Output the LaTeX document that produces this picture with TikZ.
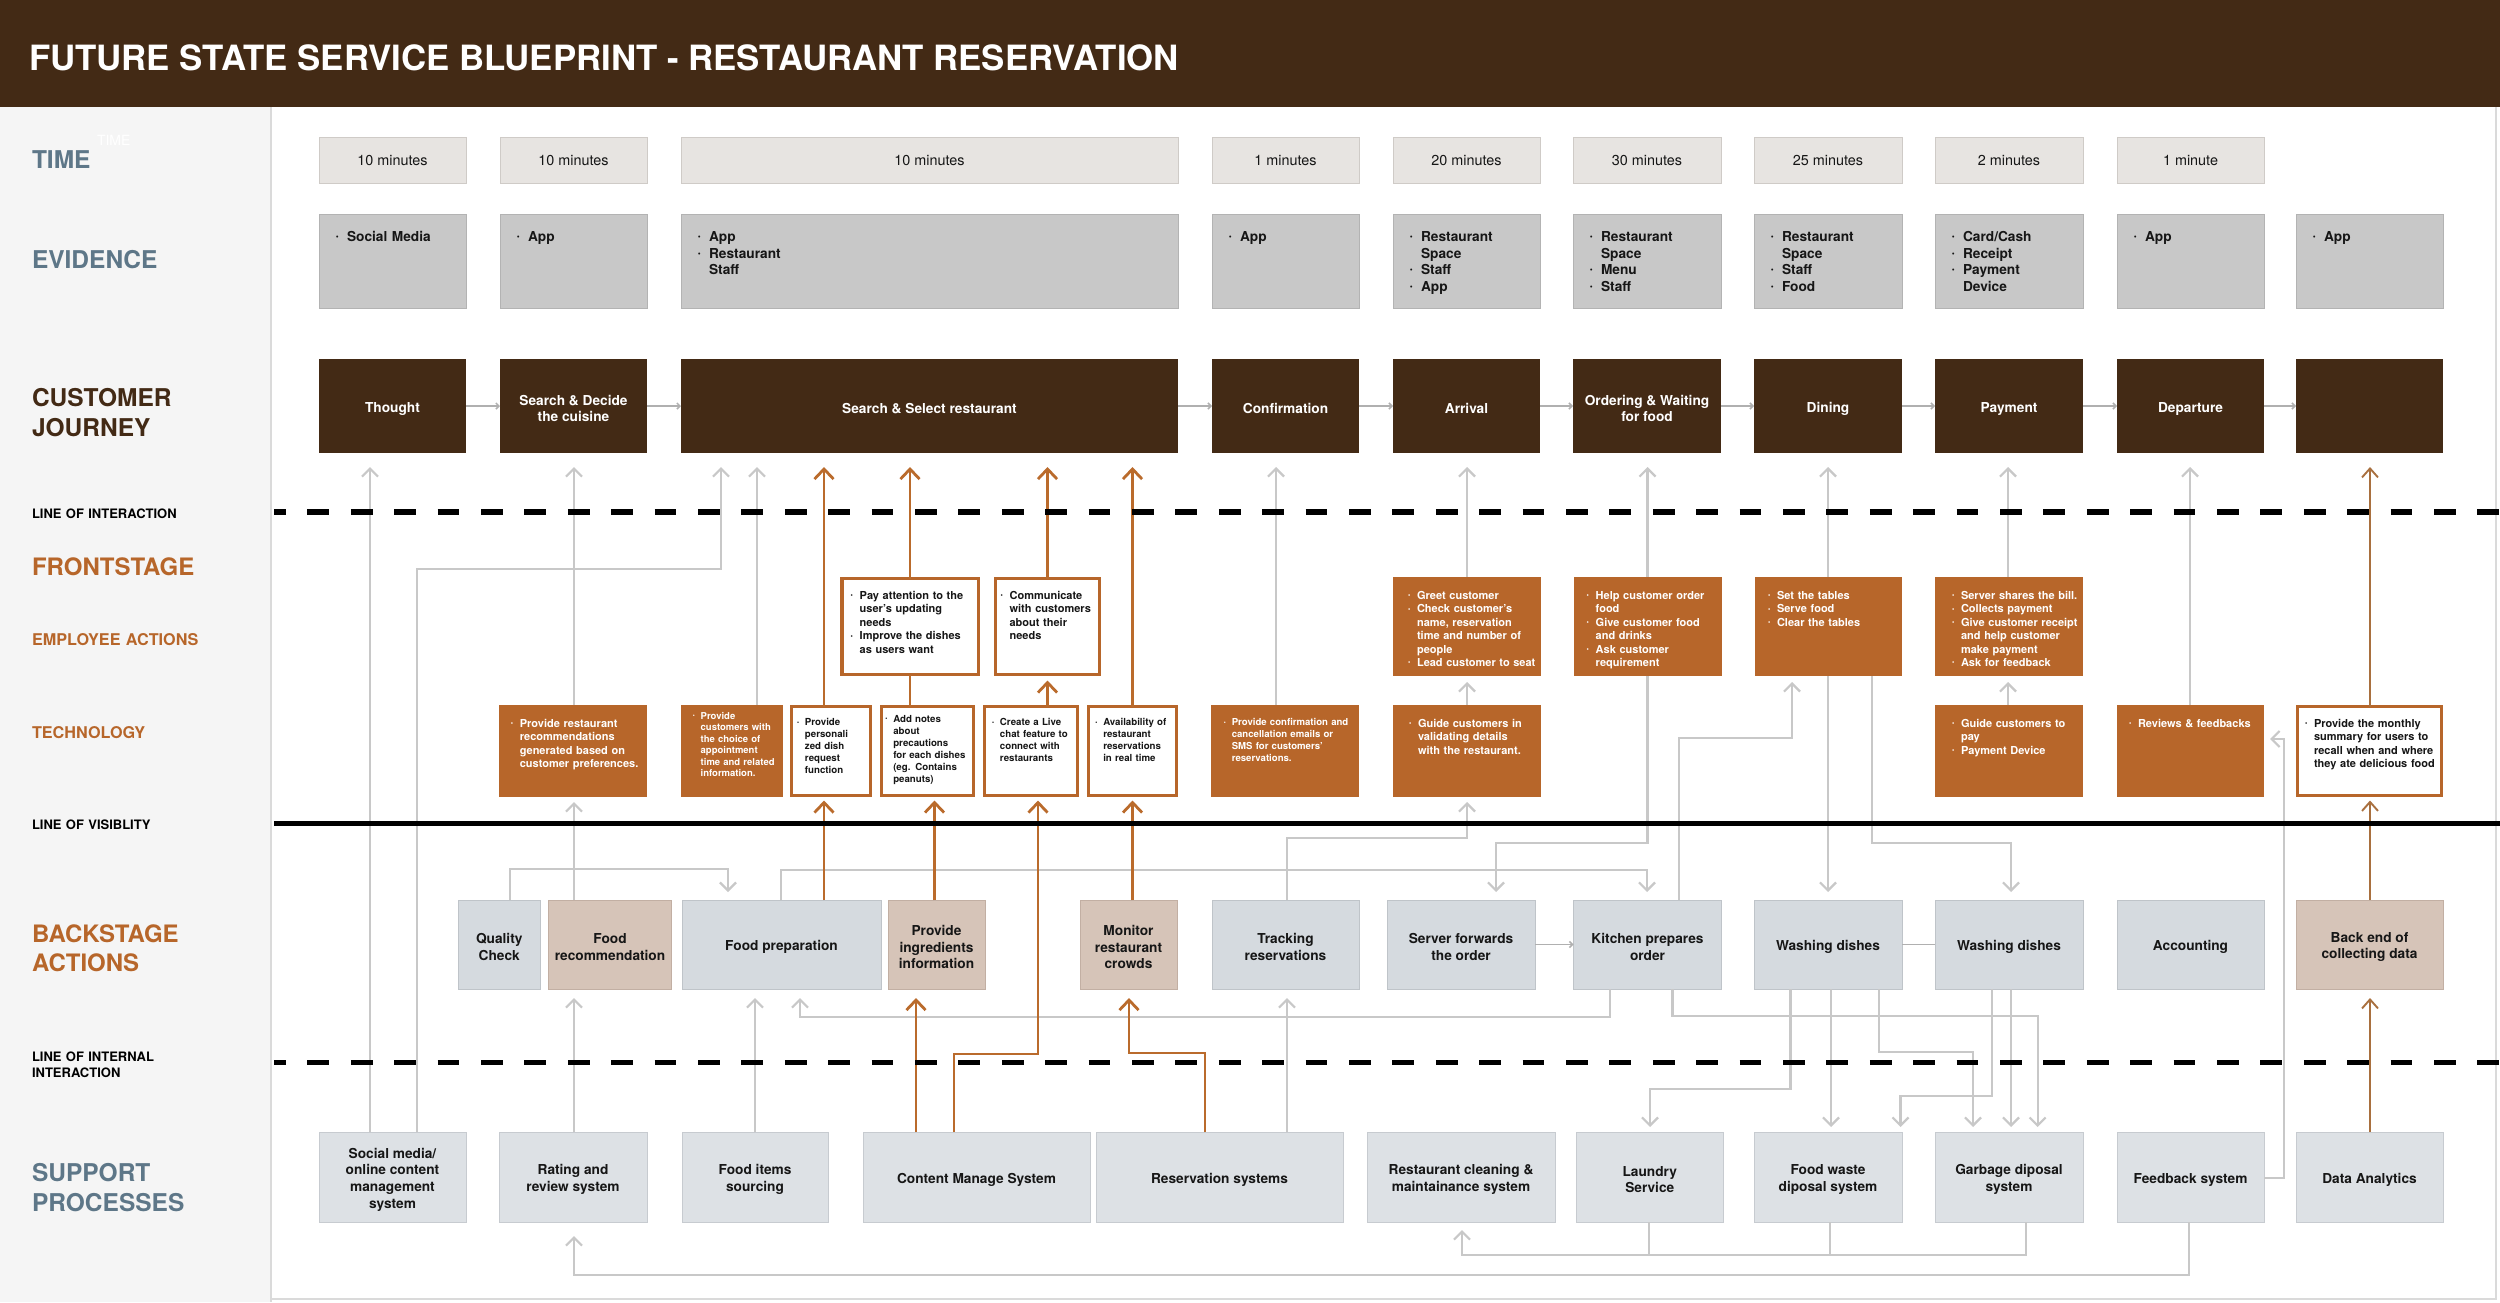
\documentclass[tikz,border=0pt]{standalone}
\usepackage{graphicx}
\usepackage{fontspec}
\setmainfont{TeX Gyre Heros}
\usetikzlibrary{arrows.meta}
\definecolor{brn}{HTML}{432A15}
\definecolor{org}{HTML}{B7662A}
\definecolor{ocol}{HTML}{BA6B2C}
\definecolor{ocol2}{HTML}{A9703F}
\definecolor{slate}{HTML}{5E7788}
\definecolor{tbox}{HTML}{E7E4E1}
\definecolor{tboxd}{HTML}{CFCBC7}
\definecolor{ebox}{HTML}{C8C8C8}
\definecolor{eboxd}{HTML}{B3B3B3}
\definecolor{bgray}{HTML}{D5DADF}
\definecolor{bgrayd}{HTML}{BFC4C9}
\definecolor{bbeige}{HTML}{D6C4B8}
\definecolor{bbeiged}{HTML}{C2AFA3}
\definecolor{sgray}{HTML}{DDE1E5}
\definecolor{sgrayd}{HTML}{C7CBD0}
\definecolor{cln}{HTML}{C8C8C8}
\definecolor{chn}{HTML}{B0B0B0}
\definecolor{panel}{HTML}{F5F5F5}
\definecolor{framec}{HTML}{DADADA}
\definecolor{txt}{HTML}{161616}
\newcommand\bpbul{\makebox[0.82em][l]{\raisebox{0.15em}{\scalebox{0.6}{•}}}}
\newcommand\bpind{\hspace*{0.82em}}
\newcommand\bpbox[7]{\node[#1,minimum width={#5-#3},minimum height={#6-#4}] (#2) at ({(#3+#5)/2},{(#4+#6)/2}) {#7};}
% box with its text as a separate node, set slightly lower
\newcommand\bpcbox[8]{\node[#1,minimum width={#5-#3},minimum height={#6-#4}] (#2) at ({(#3+#5)/2},{(#4+#6)/2}) {};
  \node[#7] (#2t) at ([yshift=-2.5pt]#2.center) {#8};}
\tikzset{
  every node/.style={inner sep=0pt, outer sep=0pt},
  timebox/.style={fill=tbox, draw=tboxd, line width=1pt, text=txt, font=\fontsize{14.4}{17}\selectfont},
  evbox/.style={fill=ebox, draw=eboxd, line width=1pt},
  jbox/.style={fill=brn},
  jtext/.style={text=white, align=center, font=\bfseries\fontsize{13.7}{16.7}\selectfont},
  btext/.style={text=txt, align=center, font=\bfseries\fontsize{13.7}{16.7}\selectfont},
  obox/.style={fill=org},
  wbox/.style={fill=white, draw=org, line width=3.5pt},
  bsg/.style={fill=bgray, draw=bgrayd, line width=1pt},
  bsb/.style={fill=bbeige, draw=bbeiged, line width=1pt},
  spb/.style={fill=sgray, draw=sgrayd, line width=1pt},
  evtext/.style={anchor=base west, align=left, text width=160pt, text=txt, font=\bfseries\fontsize{13.7}{16.5}\selectfont},
  otext/.style={anchor=base west, align=left, text width=160pt, text=white, font=\bfseries\fontsize{11}{13.4}\selectfont},
  wtext/.style={otext, text=txt},
  stext/.style={anchor=base west, align=left, text width=160pt, text=txt, font=\bfseries\fontsize{9.7}{12}\selectfont},
  lblbig/.style={anchor=base west, align=left, text width=235pt, font=\bfseries\fontsize{24.5}{30}\selectfont},
  lblmid/.style={anchor=base west, align=left, text width=235pt, text=org, font=\bfseries\fontsize{16.2}{19}\selectfont},
  lblsm/.style={anchor=base west, align=left, text width=235pt, text=black, font=\bfseries\fontsize{13}{16.3}\selectfont},
  gar/.style={draw=cln, line width=2.2pt, -{Straight Barb[length=8pt,width=16pt]}},
  gln/.style={draw=cln, line width=2.2pt},
  oar/.style={draw=ocol, line width=2.8pt, -{Straight Barb[length=10pt,width=19pt]}},
  olin/.style={draw=ocol, line width=2.8pt},
  oarthin/.style={draw=ocol2, line width=1.9pt, -{Straight Barb[length=9pt,width=16pt]}},
  sar/.style={draw=chn, line width=1.5pt, -{Straight Barb[length=3pt,width=6pt]}},
  sln/.style={draw=chn, line width=1.5pt},
  dashsep/.style={draw=black, line width=6pt, dash pattern=on 21.7pt off 21.7pt, dash phase=10pt},
}
\begin{document}
\begin{tikzpicture}[x=1pt,y=-1pt]
% background
\fill[white] (0,0) rectangle (2500,1302);
\useasboundingbox (0,0) rectangle (2500,1302);
\fill[brn] (0,0) rectangle (2500,107);
\fill[panel] (0,107) rectangle (271,1302);
\draw[framec, line width=1.5pt] (271,107) -- (271,1302);
\draw[framec, line width=1.5pt] (271,1299) -- (2496,1299) -- (2496,107);
\node[anchor=base west, text=white, font=\bfseries\fontsize{34.8}{40}\selectfont] (title) at (29,70.7) {FUTURE STATE SERVICE BLUEPRINT - RESTAURANT RESERVATION};

% left labels
\node[anchor=base west, text=white, font=\fontsize{14}{16}\selectfont] (ghost) at (97,145) {TIME};
\node[lblbig, text=slate] (lTime) at (32,168) {TIME};
\node[lblbig, text=slate] (lEv) at (32,268.3) {EVIDENCE};
\node[lblbig, text=brn] (lCj) at (32,406) {CUSTOMER\\JOURNEY};
\node[lblsm] (lLoi) at (32,518) {LINE OF INTERACTION};
\node[lblbig, text=org, font=\bfseries\fontsize{24}{29}\selectfont] (lFront) at (32,575) {FRONTSTAGE};
\node[lblmid] (lEmp) at (32,645.6) {EMPLOYEE ACTIONS};
\node[lblmid] (lTech) at (32,738) {TECHNOLOGY};
\node[lblsm] (lLov) at (32,829) {LINE OF VISIBLITY};
\node[lblbig, text=org, font=\bfseries\fontsize{24}{29.3}\selectfont] (lBack) at (32,942.4) {BACKSTAGE\\ACTIONS};
\node[lblsm] (lLii) at (32,1061.4) {LINE OF INTERNAL\\INTERACTION};
\node[lblbig, text=slate] (lSup) at (32,1181.5) {SUPPORT\\PROCESSES};

% time row
\bpbox{timebox}{t1}{319}{137}{466}{183}{10 minutes}
\bpbox{timebox}{t2}{500}{137}{647}{183}{10 minutes}
\bpbox{timebox}{t3}{681}{137}{1178}{183}{10 minutes}
\bpbox{timebox}{t4}{1212}{137}{1359}{183}{1 minutes}
\bpbox{timebox}{t5}{1393}{137}{1540}{183}{20 minutes}
\bpbox{timebox}{t6}{1573}{137}{1721}{183}{30 minutes}
\bpbox{timebox}{t7}{1754}{137}{1902}{183}{25 minutes}
\bpbox{timebox}{t8}{1935}{137}{2083}{183}{2 minutes}
\bpbox{timebox}{t9}{2117}{137}{2264}{183}{1 minute}

% evidence row
\bpbox{evbox}{v1}{319}{214}{466}{308}{}
\bpbox{evbox}{v2}{500}{214}{647}{308}{}
\bpbox{evbox}{v3}{681}{214}{1178}{308}{}
\bpbox{evbox}{v4}{1212}{214}{1359}{308}{}
\bpbox{evbox}{v5}{1393}{214}{1540}{308}{}
\bpbox{evbox}{v6}{1573}{214}{1721}{308}{}
\bpbox{evbox}{v7}{1754}{214}{1902}{308}{}
\bpbox{evbox}{v8}{1935}{214}{2083}{308}{}
\bpbox{evbox}{v9}{2117}{214}{2264}{308}{}
\bpbox{evbox}{v10}{2296}{214}{2443}{308}{}
\node[evtext] (v1t) at (335.8,241.7) {\bpbul Social Media};
\node[evtext] (v2t) at (516.8,241.7) {\bpbul App};
\node[evtext] (v3t) at (697.8,241.7) {\bpbul App\\\bpbul Restaurant\\\bpind Staff};
\node[evtext] (v4t) at (1228.8,241.7) {\bpbul App};
\node[evtext] (v5t) at (1409.8,241.7) {\bpbul Restaurant\\\bpind Space\\\bpbul Staff\\\bpbul App};
\node[evtext] (v6t) at (1589.8,241.7) {\bpbul Restaurant\\\bpind Space\\\bpbul Menu\\\bpbul Staff};
\node[evtext] (v7t) at (1770.8,241.7) {\bpbul Restaurant\\\bpind Space\\\bpbul Staff\\\bpbul Food};
\node[evtext] (v8t) at (1951.8,241.7) {\bpbul Card/Cash\\\bpbul Receipt\\\bpbul Payment\\\bpind Device};
\node[evtext] (v9t) at (2133.8,241.7) {\bpbul App};
\node[evtext] (v10t) at (2312.8,241.7) {\bpbul App};

% customer journey
\bpcbox{jbox}{J1}{319}{359}{466}{453}{jtext}{Thought}
\bpcbox{jbox}{J2}{500}{359}{647}{453}{jtext}{Search \& Decide\\the cuisine}
\bpcbox{jbox}{J3}{681}{359}{1178}{453}{jtext}{Search \& Select restaurant}
\bpcbox{jbox}{J4}{1212}{359}{1359}{453}{jtext}{Confirmation}
\bpcbox{jbox}{J5}{1393}{359}{1540}{453}{jtext}{Arrival}
\bpcbox{jbox}{J6}{1573}{359}{1721}{453}{jtext}{Ordering \& Waiting\\for food}
\bpcbox{jbox}{J7}{1754}{359}{1902}{453}{jtext}{Dining}
\bpcbox{jbox}{J8}{1935}{359}{2083}{453}{jtext}{Payment}
\bpcbox{jbox}{J9}{2117}{359}{2264}{453}{jtext}{Departure}
\bpbox{jbox}{J10}{2296}{359}{2443}{453}{}

% employee actions
\bpbox{wbox}{E1}{842}{578.5}{978.5}{674.5}{}
\bpbox{wbox}{E2}{995.5}{578.5}{1099.5}{674.5}{}
\bpbox{obox}{E3}{1393}{577}{1541}{676}{}
\bpbox{obox}{E4}{1573.5}{577}{1721.5}{676}{}
\bpbox{obox}{E5}{1755}{577}{1902}{676}{}
\bpbox{obox}{E6}{1935}{577}{2083}{676}{}
\node[wtext] (E1t) at (850.7,599.5) {\bpbul Pay attention to the\\\bpind user's updating\\\bpind needs\\\bpbul Improve the dishes\\\bpind as users want};
\node[wtext] (E2t) at (1000.6,599.5) {\bpbul Communicate\\\bpind with customers\\\bpind about their\\\bpind needs};
\node[otext] (E3t) at (1408,599.5) {\bpbul Greet customer\\\bpbul Check customer's\\\bpind name, reservation\\\bpind time and number of\\\bpind people\\\bpbul Lead customer to seat};
\node[otext] (E4t) at (1586.7,599.5) {\bpbul Help customer order\\\bpind food\\\bpbul Give customer food\\\bpind and drinks\\\bpbul Ask customer\\\bpind requirement};
\node[otext] (E5t) at (1768,599.5) {\bpbul Set the tables\\\bpbul Serve food\\\bpbul Clear the tables};
\node[otext] (E6t) at (1952,599.5) {\bpbul Server shares the bill.\\\bpbul Collects payment\\\bpbul Give customer receipt\\\bpind and help customer\\\bpind make payment\\\bpbul Ask for feedback};

% technology
\bpbox{obox}{T1}{499}{705}{647}{797}{}
\bpbox{obox}{T2}{681}{705}{783}{797}{}
\bpbox{wbox}{T3}{791.5}{706.5}{870.5}{795.5}{}
\bpbox{wbox}{T4}{881.5}{706.5}{973.5}{795.5}{}
\bpbox{wbox}{T5}{984.5}{706.5}{1077.5}{795.5}{}
\bpbox{wbox}{T6}{1088.5}{706.5}{1176.5}{795.5}{}
\bpbox{obox}{T7}{1211}{705}{1359}{797}{}
\bpbox{obox}{T8}{1393}{705}{1541}{797}{}
\bpbox{obox}{T9}{1935}{705}{2083}{797}{}
\bpbox{obox}{T10}{2117}{705}{2264}{797}{}
\bpbox{wbox}{T11}{2297.5}{706.5}{2441.5}{795.5}{}
\node[otext] (T1t) at (510.8,727.3) {\bpbul Provide restaurant\\\bpind recommendations\\\bpind generated based on\\\bpind customer preferences.};
\node[otext, font=\bfseries\fontsize{9.5}{11.5}\selectfont] (T2t) at (692.9,719) {\bpbul Provide\\\bpind customers with\\\bpind the choice of\\\bpind appointment\\\bpind time and related\\\bpind information.};
\node[stext] (T3t) at (797,725.7) {\bpbul Provide\\\bpind personali\\\bpind zed dish\\\bpind request\\\bpind function};
\node[stext] (T4t) at (885.3,722.3) {\bpbul Add notes\\\bpind about\\\bpind precautions\\\bpind for each dishes\\\bpind (eg. Contains\\\bpind peanuts)};
\node[stext] (T5t) at (992,725.7) {\bpbul Create a Live\\\bpind chat feature to\\\bpind connect with\\\bpind restaurants};
\node[stext] (T6t) at (1095.3,725.7) {\bpbul Availability of\\\bpind restaurant\\\bpind reservations\\\bpind in real time};
\node[stext, text=white, font=\bfseries\fontsize{9.6}{12}\selectfont] (T7t) at (1223.9,725.5) {\bpbul Provide confirmation and\\\bpind cancellation emails or\\\bpind SMS for customers'\\\bpind reservations.};
\node[otext] (T8t) at (1409,727.5) {\bpbul Guide customers in\\\bpind validating details\\\bpind with the restaurant.};
\node[otext] (T9t) at (1952,727.5) {\bpbul Guide customers to\\\bpind pay\\\bpbul Payment Device};
\node[otext] (T10t) at (2129,727.3) {\bpbul Reviews \& feedbacks};
\node[wtext] (T11t) at (2305,727.5) {\bpbul Provide the monthly\\\bpind summary for users to\\\bpind recall when and where\\\bpind they ate delicious food};

% backstage
\bpcbox{bsg}{B1}{458.5}{900}{540}{989}{btext}{Quality\\Check}
\bpcbox{bsb}{B2}{548.5}{900}{671.5}{989}{btext}{Food\\recommendation}
\bpcbox{bsg}{B3}{682}{900}{881}{989}{btext}{Food preparation}
\bpcbox{bsb}{B4}{888}{900}{985}{989}{btext}{Provide\\ingredients\\information}
\bpcbox{bsb}{B5}{1080}{900}{1177}{989}{btext}{Monitor\\restaurant\\crowds}
\bpcbox{bsg}{B6}{1212}{900}{1359}{989}{btext}{Tracking\\reservations}
\bpcbox{bsg}{B7}{1387}{900}{1535}{989}{btext}{Server forwards\\the order}
\bpcbox{bsg}{B8}{1573.5}{900}{1721.5}{989}{btext}{Kitchen prepares\\order}
\bpcbox{bsg}{B9}{1754}{900}{1902}{989}{btext}{Washing dishes}
\bpcbox{bsg}{B10}{1935}{900}{2083}{989}{btext}{Washing dishes}
\bpcbox{bsg}{B11}{2117}{900}{2264}{989}{btext}{Accounting}
\bpcbox{bsb}{B12}{2296}{900}{2443}{989}{btext}{Back end of\\collecting data}

% support
\bpcbox{spb}{S1}{319}{1132}{466}{1222}{btext}{Social media/\\online content\\management\\system}
\bpcbox{spb}{S2}{499}{1132}{647}{1222}{btext}{Rating and\\review system}
\bpcbox{spb}{S3}{682}{1132}{828}{1222}{btext}{Food items\\sourcing}
\bpcbox{spb}{S4}{863}{1132}{1090}{1222}{btext}{Content Manage System}
\bpcbox{spb}{S5}{1096}{1132}{1343}{1222}{btext}{Reservation systems}
\bpcbox{spb}{S6}{1367}{1132}{1555}{1222}{btext}{Restaurant cleaning \&\\maintainance system}
\bpcbox{spb}{S7}{1576}{1132}{1723.5}{1222}{btext}{Laundry\\Service}
\bpcbox{spb}{S8}{1754}{1132}{1902}{1222}{btext}{Food waste\\diposal system}
\bpcbox{spb}{S9}{1935}{1132}{2083}{1222}{btext}{Garbage diposal\\system}
\bpcbox{spb}{S10}{2117}{1132}{2264}{1222}{btext}{Feedback system}
\bpcbox{spb}{S11}{2296}{1132}{2443}{1222}{btext}{Data Analytics}

% journey chain
\foreach \a/\b in {J1/J2,J2/J3,J3/J4,J4/J5,J5/J6,J6/J7,J7/J8,J8/J9,J9/J10}
  \draw[sar] (\a.east) -- (\b.west);
\draw[sar] (B7.east) -- (B8.west);
\draw[sln] (B9.east) -- (B10.west);

% gray connectors
\draw[gar,shorten >=14pt] (370,0 |- S1.north) -- (370,0 |- J1.south);
\draw[gar,shorten >=14pt] (417,0 |- S1.north) |- (721,569) -- (721,0 |- J3.south);
\draw[gar,shorten >=14pt] (574,0 |- T1.north) -- (574,0 |- J2.south);
\draw[gar,shorten >=5pt] (574,0 |- B2.north) -- (574,0 |- T1.south);
\draw[gar,shorten >=9pt] (574,0 |- S2.north) -- (574,0 |- B2.south);
\draw[gar,shorten >=14pt] (757,0 |- T2.north) -- (757,0 |- J3.south);
\draw[gar,shorten >=8pt] (509.6,0 |- B1.north) |- (728,869) -- (728,0 |- B3.north);
\draw[gar,shorten >=8pt] (781,0 |- B3.north) |- (1647,870) -- (1647,0 |- B8.north);
\draw[gar,shorten >=9pt] (755,0 |- S3.north) -- (755,0 |- B3.south);
\draw[gar,shorten >=9pt] (1610,0 |- B8.south) |- (800,1017) -- (800,0 |- B3.south);
\draw[gar,shorten >=14pt] (1276,0 |- T7.north) -- (1276,0 |- J4.south);
\draw[gar,shorten >=5pt] (1287,0 |- B6.north) |- (1467,838) -- (1467,0 |- T8.south);
\draw[gar,shorten >=9pt] (1287,0 |- S5.north) -- (1287,0 |- B6.south);
\draw[gar,shorten >=6pt] (1467,0 |- T8.north) -- (1467,0 |- E3.south);
\draw[gar,shorten >=14pt] (1467,0 |- E3.north) -- (1467,0 |- J5.south);
\draw[gar,shorten >=14pt] (1647.5,0 |- E4.north) -- (1647.5,0 |- J6.south);
\draw[gar,shorten >=8pt] (1647.5,0 |- E4.south) |- (1496,842.7) -- (1496,0 |- B7.north);
\draw[gar,shorten >=6pt] (1679,0 |- B8.north) |- (1792,738) -- (1792,0 |- E5.south);
\draw[gar,shorten >=14pt] (1828,0 |- E5.north) -- (1828,0 |- J7.south);
\draw[gar,shorten >=8pt] (1828,0 |- E5.south) -- (1828,0 |- B9.north);
\draw[gar,shorten >=8pt] (1872,0 |- E5.south) |- (2011,842.7) -- (2011,0 |- B10.north);
\draw[gar,shorten >=14pt] (2008,0 |- E6.north) -- (2008,0 |- J8.south);
\draw[gar,shorten >=6pt] (2008,0 |- T9.north) -- (2008,0 |- E6.south);
\draw[gar,shorten >=14pt] (2190,0 |- T10.north) -- (2190,0 |- J9.south);
\draw[gar,shorten >=6pt] (S10.east |- 0,1178) -| (2284,739) -- (T10.east |- 0,739);
\draw[gar,shorten >=5pt] (1672.5,0 |- B8.south) |- (2037.6,1016) -- (2037.6,0 |- S9.north);
\draw[gar,shorten >=5pt] (1790.5,0 |- B9.south) |- (1650,1089) -- (1650,0 |- S7.north);
\draw[gar,shorten >=5pt] (1831,0 |- B9.south) -- (1831,0 |- S8.north);
\draw[gar,shorten >=5pt] (1879,0 |- B9.south) |- (1973,1052) -- (1973,0 |- S9.north);
\draw[gar,shorten >=5pt] (1992,0 |- B10.south) |- (1900.5,1096) -- (1900.5,0 |- S8.north);
\draw[gar,shorten >=5pt] (2011,0 |- B10.south) -- (2011,0 |- S9.north);
\draw[gln] (1648.6,0 |- S7.south) -- (1648.6,1255);
\draw[gln] (1829.6,0 |- S8.south) -- (1829.6,1255);
\draw[gar,shorten >=8pt] (2025.7,0 |- S9.south) |- (1462,1255) -- (1462,0 |- S6.south);
\draw[gar,shorten >=14pt] (2189,0 |- S10.south) |- (574,1275) -- (574,0 |- S2.south);

% orange connectors
\draw[oar,shorten >=14pt] (824,0 |- T3.north) -- (824,0 |- J3.south);
\draw[oar,shorten >=5pt] (824,0 |- B3.north) -- (824,0 |- T3.south);
\draw[oar,shorten >=14pt] (910,0 |- E1.north) -- (910,0 |- J3.south);
\draw[olin] (910,0 |- T4.north) -- (910,0 |- E1.south);
\draw[oar,shorten >=5pt] (934.5,0 |- B4.north) -- (934.5,0 |- T4.south);
\draw[oar,shorten >=9pt] (916,0 |- S4.north) -- (916,0 |- B4.south);
\draw[oar,shorten >=14pt] (1047.5,0 |- E2.north) -- (1047.5,0 |- J3.south);
\draw[oar,shorten >=6pt] (1047.5,0 |- T5.north) -- (1047.5,0 |- E2.south);
\draw[oar,shorten >=5pt] (954,0 |- S4.north) |- (1038,1054) -- (1038,0 |- T5.south);
\draw[oar,shorten >=14pt] (1132.5,0 |- T6.north) -- (1132.5,0 |- J3.south);
\draw[oar,shorten >=5pt] (1132.5,0 |- B5.north) -- (1132.5,0 |- T6.south);
\draw[oar,shorten >=9pt] (1205,0 |- S5.north) |- (1129,1053) -- (1129,0 |- B5.south);
\draw[oarthin,shorten >=14pt] (2370,0 |- T11.north) -- (2370,0 |- J10.south);
\draw[oarthin,shorten >=5pt] (2370,0 |- B12.north) -- (2370,0 |- T11.south);
\draw[oarthin,shorten >=9pt] (2370,0 |- S11.north) -- (2370,0 |- B12.south);

% separator lines
\draw[dashsep] (274,512) -- (2500,512);
\draw[black, line width=5.5pt] (274,823.4) -- (2500,823.4);
\draw[dashsep, line width=5.5pt] (274,1062.5) -- (2500,1062.5);
\end{tikzpicture}
\end{document}
